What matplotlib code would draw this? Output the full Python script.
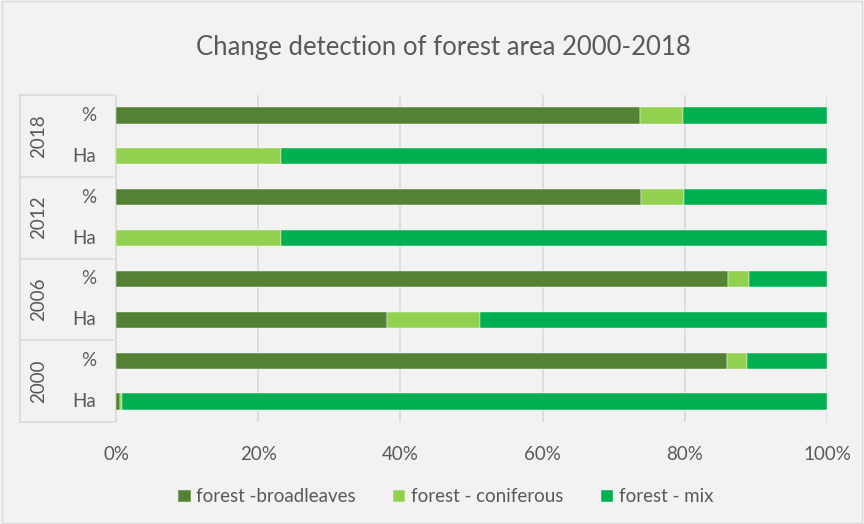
import matplotlib
matplotlib.use("Agg")
import matplotlib.pyplot as plt
from matplotlib.transforms import blended_transform_factory
from matplotlib.patches import Rectangle
import numpy as np

plt.rcParams['font.family'] = ['Lato', 'DejaVu Sans']

years = ["2000", "2006", "2012", "2018"]
sub_labels = ["Ha", "%"]
series_names = ["forest -broadleaves", "forest - coniferous", "forest - mix"]
colors = ["#548235", "#92d050", "#00b050"]

# order bottom to top: 2000 Ha, 2000 %, 2006 Ha, 2006 %, ...
broadleaves = [0.5, 85.9, 38.1, 86.1, 0.0, 73.8, 0.0, 73.7]
coniferous = [0.3, 2.9, 13.1, 2.9, 23.2, 6.1, 23.2, 6.0]
mix = [99.2, 11.2, 48.8, 11.0, 76.8, 20.1, 76.8, 20.3]
xticks = [0, 20, 40, 60, 80, 100]
xtick_labels = ["0%", "20%", "40%", "60%", "80%", "100%"]

W, H = 864, 524
fig = plt.figure(figsize=(W / 100, H / 100), dpi=100)
fig.patch.set_facecolor("#f2f2f2")
fig.patches.append(Rectangle((0.002, 0.002), 0.996, 0.996, transform=fig.transFigure,
                             fill=False, edgecolor="#d9d9d9", linewidth=1))

ax = fig.add_axes([116 / W, 1 - 422 / H, (827 - 116) / W, (422 - 95) / H])
ax.set_facecolor("#f2f2f2")

values = [broadleaves, coniferous, mix]
n = len(broadleaves)
ypos = np.arange(n)
totals = np.array(broadleaves) + np.array(coniferous) + np.array(mix)
left = np.zeros(n)
for name, vals, c in zip(series_names, values, colors):
    pct = np.array(vals) / totals * 100
    ax.barh(ypos, pct, left=left, height=0.4, color=c, label=name,
            edgecolor="#ffffff", linewidth=0.3, zorder=3)
    left += pct

ax.set_xlim(0, 100)
ax.set_ylim(-0.5, n - 0.5)
ax.set_xticks(xticks)
ax.set_xticklabels(xtick_labels, fontsize=13.5, color="#595959")
ax.tick_params(axis="x", length=0, pad=17)
ax.set_yticks([])
for s in ["top", "right", "bottom"]:
    ax.spines[s].set_visible(False)
ax.spines["left"].set_color("#d9d9d9")
ax.spines["left"].set_linewidth(1.2)
ax.grid(axis="x", color="#d9d9d9", linewidth=1.2, zorder=0)
ax.set_axisbelow(True)

# hierarchical category labels
tr = blended_transform_factory(fig.transFigure, ax.transData)
x_outer = 20 / W
x_inner = 113 / W
line_kw = dict(color="#d9d9d9", linewidth=1.2, transform=tr, clip_on=False)
for g in range(len(years) + 1):
    yb = g * 2 - 0.5
    fig.add_artist(plt.Line2D([x_outer, x_inner], [yb, yb], **line_kw))
fig.add_artist(plt.Line2D([x_outer, x_outer], [-0.5, n - 0.5], **line_kw))
for i, yr in enumerate(years):
    ax.text(39 / W, i * 2 + 0.5, yr, transform=tr, rotation=90, ha="center",
            va="center", fontsize=13.5, color="#595959")
    for j, sl in enumerate(sub_labels):
        ax.text(96 / W, i * 2 + j, sl, transform=tr, ha="right", va="center",
                fontsize=13.5, color="#595959")

fig.text(0.513, 1 - 47 / H, "Change detection of forest area 2000-2018",
         ha="center", va="center", fontsize=18.5, color="#595959")

leg = fig.legend(loc="center", bbox_to_anchor=(0.516, 1 - 497 / H), ncol=3,
                 frameon=False, fontsize=13.5, handlelength=0.65, handleheight=0.65,
                 columnspacing=2.0, handletextpad=0.3)
for t in leg.get_texts():
    t.set_color("#595959")

fig.savefig("out.png", dpi=100, facecolor=fig.get_facecolor())
